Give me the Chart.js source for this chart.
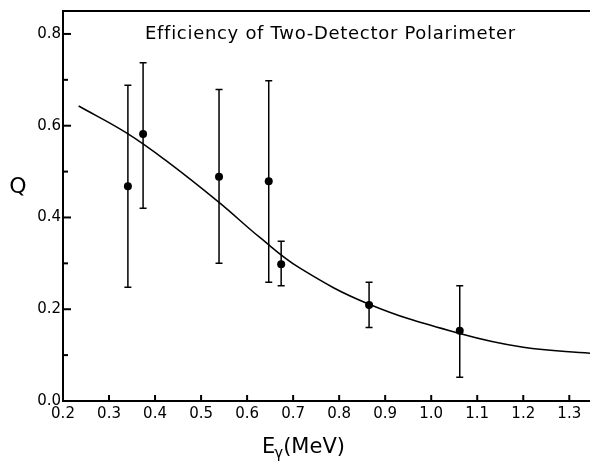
<!DOCTYPE html>
<html><head><meta charset="utf-8">
<script src="https://cdn.jsdelivr.net/npm/chart.js@4"></script>
<style>html,body{margin:0;padding:0;background:#fff;overflow:hidden}</style>
</head><body>
<canvas id="c" width="590" height="461"></canvas>
<script>
// Measured data points (E in MeV, Q) with error bar ends
const energyMeV  = [0.341, 0.374, 0.539, 0.647, 0.674, 0.865, 1.062];
const qValues    = [0.468, 0.582, 0.489, 0.479, 0.298, 0.209, 0.153];
const qErrTop    = [0.688, 0.737, 0.679, 0.698, 0.348, 0.259, 0.251];
const qErrBottom = [0.248, 0.420, 0.300, 0.259, 0.251, 0.160, 0.052];

// Fitted efficiency curve
const curveEnergy = [0.234, 0.337, 0.424, 0.539, 0.627, 0.714, 0.865, 1.062, 1.200, 1.345];
const curveQ      = [0.643, 0.585, 0.524, 0.433, 0.357, 0.290, 0.211, 0.147, 0.117, 0.104];

const titleText = 'Efficiency of Two-Detector Polarimeter';
const yAxisLabel = 'Q';
const xAxisLabelMain = 'E';
const xAxisLabelSub = 'γ';
const xAxisLabelUnit = '(MeV)';

const decor = {
  id: 'decor',
  beforeDraw(chart) {
    const ctx = chart.ctx;
    ctx.save();
    ctx.fillStyle = '#fff';
    ctx.fillRect(0, 0, chart.width, chart.height);
    ctx.restore();
  },
  beforeDatasetsDraw(chart) {
    const { ctx, scales: { x, y } } = chart;
    ctx.save();
    ctx.strokeStyle = '#000';
    ctx.lineWidth = 1.5;
    energyMeV.forEach((e, i) => {
      const px = x.getPixelForValue(e);
      const pt = y.getPixelForValue(qErrTop[i]);
      const pb = y.getPixelForValue(qErrBottom[i]);
      ctx.beginPath();
      ctx.moveTo(px, pt); ctx.lineTo(px, pb);
      ctx.moveTo(px - 3.5, pt); ctx.lineTo(px + 3.5, pt);
      ctx.moveTo(px - 3.5, pb); ctx.lineTo(px + 3.5, pb);
      ctx.stroke();
    });
    ctx.restore();
  },
  afterDraw(chart) {
    const { ctx, chartArea: a, scales: { x, y } } = chart;
    ctx.save();
    ctx.strokeStyle = '#000';
    ctx.fillStyle = '#000';
    // top frame
    ctx.lineWidth = 2;
    ctx.beginPath();
    ctx.moveTo(a.left, a.top); ctx.lineTo(a.right, a.top);
    ctx.stroke();
    // inward ticks on y
    y.ticks.forEach(t => {
      const py = y.getPixelForValue(t.value);
      const major = Math.round(t.value * 10) % 2 === 0;
      const len = major ? 8 : 5;
      ctx.beginPath();
      ctx.moveTo(a.left, py); ctx.lineTo(a.left + len, py);
      ctx.stroke();
    });
    // inward ticks on x
    x.ticks.forEach(t => {
      const px = x.getPixelForValue(t.value);
      ctx.beginPath();
      ctx.moveTo(px, a.bottom); ctx.lineTo(px, a.bottom - 6);
      ctx.stroke();
    });
    // title inside plot
    ctx.font = '18px "DejaVu Sans"';
    ctx.textBaseline = 'alphabetic';
    ctx.textAlign = 'left';
    const w = ctx.measureText(titleText).width;
    const target = 370;
    if (w < target) {
      ctx.letterSpacing = ((target - w) / (titleText.length - 1)).toFixed(2) + 'px';
    } else {
      ctx.font = (18 * target / w).toFixed(2) + 'px "DejaVu Sans"';
    }
    ctx.fillText(titleText, 145, 39);
    ctx.letterSpacing = '0px';
    // y axis label (horizontal)
    ctx.font = '22px "DejaVu Sans"';
    ctx.textAlign = 'center';
    ctx.fillText(yAxisLabel, 18, 193);
    // x axis label with subscript
    ctx.textAlign = 'left';
    let cx = 262;
    const base = 453;
    ctx.font = '21px "DejaVu Sans"';
    ctx.fillText(xAxisLabelMain, cx, base);
    cx += ctx.measureText(xAxisLabelMain).width;
    ctx.font = '15px "DejaVu Sans"';
    ctx.fillText(xAxisLabelSub, cx - 1, base + 5);
    cx += ctx.measureText(xAxisLabelSub).width - 1;
    ctx.font = '21px "DejaVu Sans"';
    ctx.fillText(xAxisLabelUnit, cx, base);
    ctx.restore();
  }
};

new Chart(document.getElementById('c'), {
  type: 'scatter',
  data: {
    datasets: [
      {
        type: 'line',
        data: curveEnergy.map((e, i) => ({ x: e, y: curveQ[i] })),
        borderColor: '#000',
        borderWidth: 1.5,
        pointRadius: 0,
        fill: false,
        tension: 0.4,
        order: 2
      },
      {
        type: 'scatter',
        data: energyMeV.map((e, i) => ({ x: e, y: qValues[i] })),
        backgroundColor: '#000',
        borderColor: '#000',
        pointRadius: 4,
        pointBorderWidth: 0,
        order: 1
      }
    ]
  },
  options: {
    responsive: false,
    animation: false,
    layout: { autoPadding: false, padding: { top: 10, right: 0, left: 0, bottom: 0 } },
    plugins: { legend: { display: false }, tooltip: { enabled: false }, title: { display: false } },
    scales: {
      x: {
        type: 'linear',
        min: 0.2, max: 1.345,
        afterFit(s) { s.height = 60; },
        border: { display: true, color: '#000', width: 2 },
        grid: { display: true, drawOnChartArea: false, drawTicks: false },
        ticks: {
          stepSize: 0.1, includeBounds: false, autoSkip: false, maxRotation: 0,
          padding: 4, color: '#000',
          font: { family: 'DejaVu Sans', size: 15 },
          callback: v => v.toFixed(1)
        }
      },
      y: {
        type: 'linear',
        min: 0, max: 0.85,
        afterFit(s) { s.width = 63; },
        border: { display: true, color: '#000', width: 2 },
        grid: { display: true, drawOnChartArea: false, drawTicks: false },
        ticks: {
          stepSize: 0.1, includeBounds: false, autoSkip: false,
          padding: 2, color: '#000',
          font: { family: 'DejaVu Sans', size: 15 },
          callback: v => (Math.round(v * 10) % 2 === 0 ? v.toFixed(1) : '')
        }
      }
    }
  },
  plugins: [decor]
});
</script>
</body></html>
